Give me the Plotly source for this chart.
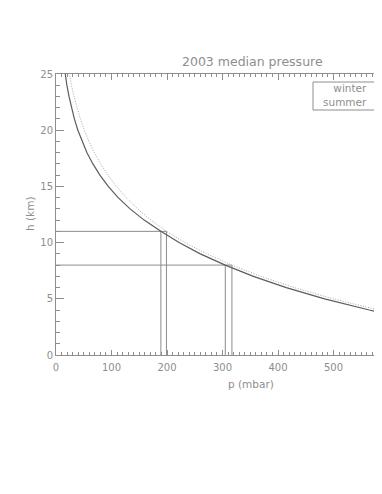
import plotly.graph_objects as go

# Heights (km) at which the median pressures are read
heights = [26, 25, 24, 23, 22, 21, 20, 19, 18, 17, 16, 15, 14, 13, 12, 11,
           10, 9, 8, 7, 6, 5, 4, 3, 2, 1, 0]
# Winter median pressure (mbar)
p_winter = [13.9, 16.5, 19.6, 23.4, 27.8, 33.1, 39.4, 46.9, 55.8, 66.5, 79.1,
            94.1, 112.0, 133.5, 158.8, 189.0, 221.7, 260.0, 305.0, 355.7,
            414.9, 483.9, 564.4, 658.3, 767.7, 895.4, 1044.0]
# Summer median pressure (mbar)
p_summer = [20.6, 24.0, 27.9, 32.5, 37.8, 43.9, 51.1, 59.4, 69.2, 80.4, 93.5,
            108.8, 126.5, 147.1, 171.1, 199.0, 232.4, 271.5, 317.0, 368.9,
            429.2, 499.4, 581.2, 676.3, 786.9, 915.7, 1065.0]

# Reference levels (km) and the pressures where each curve crosses them
ref_heights = [11, 8]
ref_p_winter = [189, 305]
ref_p_summer = [199, 317]

x_ticks = [0, 100, 200, 300, 400, 500, 600]
y_ticks = [0, 5, 10, 15, 20, 25]

TXT = "#8e8e8e"
AX = "#8e8e8e"
FONT = "DejaVu Sans"

# plot-area geometry in window pixels (page body has an 8px margin)
PL, PT, PB = 56, 74, 355
FIG_W, FIG_H = 374, 470
PR = 8 + FIG_W          # plot reaches the right edge of the figure
PW, PH = PR - PL, PB - PT
P_PER_PX = 600 / (389 - 56)   # mbar per pixel
X_MAX = PW * P_PER_PX


def fx(px):
    return (px - PL) / PW


def fy(py):
    return (PB - py) / PH


fig = go.Figure()

# reference lines: horizontal from p=0 to summer crossing, verticals down to 0
hx, hy, vx, vy = [], [], [], []
for h, pw, ps in zip(ref_heights, ref_p_winter, ref_p_summer):
    hx += [0, ps, None]
    hy += [h, h, None]
    vx += [pw, pw, None, ps, ps, None]
    vy += [0, h, None, 0, h, None]
fig.add_trace(go.Scatter(x=hx + vx, y=hy + vy, mode="lines",
                         line=dict(color="#8c8c8c", width=1),
                         showlegend=False, hoverinfo="skip"))

fig.add_trace(go.Scatter(x=p_summer, y=heights, mode="lines", name="summer",
                         line=dict(color="#a6a6a6", width=1, dash="1px,1.6px"),
                         showlegend=False))
fig.add_trace(go.Scatter(x=p_winter, y=heights, mode="lines", name="winter",
                         line=dict(color="#5c5c5c", width=1.2),
                         showlegend=False))

fig.update_layout(
    width=FIG_W, height=FIG_H,
    margin=dict(l=PL - 8, r=0, t=PT - 8, b=FIG_H + 8 - PB),
    paper_bgcolor="white", plot_bgcolor="white",
    font=dict(family=FONT, color=TXT, size=10),
    showlegend=False,
)

fig.update_xaxes(
    range=[0, X_MAX], tickvals=x_ticks, ticktext=[str(v) for v in x_ticks],
    ticks="inside", ticklen=5.5, tickcolor=AX, tickwidth=1,
    minor=dict(dtick=10, ticks="inside", ticklen=2.8, tickcolor=AX, tickwidth=1),
    showline=True, linecolor=AX, linewidth=1, mirror="allticks",
    showgrid=False, zeroline=False, ticklabelstandoff=3,
    tickfont=dict(family=FONT, color=TXT, size=10),
)
fig.update_yaxes(
    range=[0, 25], tickvals=y_ticks, ticktext=[str(v) for v in y_ticks],
    ticks="inside", ticklen=7.5, tickcolor=AX, tickwidth=1,
    minor=dict(dtick=1, ticks="inside", ticklen=3.8, tickcolor=AX, tickwidth=1),
    showline=True, linecolor=AX, linewidth=1, mirror=False,
    showgrid=False, zeroline=False,
    tickfont=dict(family=FONT, color=TXT, size=10),
)

# title, axis titles as text annotations
fig.add_annotation(text="2003 median pressure", xref="paper", yref="paper",
                   x=fx(252), y=fy(62), showarrow=False,
                   xanchor="center", yanchor="middle",
                   font=dict(family=FONT, color=TXT, size=12.5))
fig.add_annotation(text="p (mbar)", xref="paper", yref="paper",
                   x=fx(251), y=fy(384), showarrow=False,
                   xanchor="center", yanchor="middle",
                   font=dict(family=FONT, color=TXT, size=10.5))
fig.add_annotation(text="h (km)", xref="paper", yref="paper",
                   x=fx(30), y=fy(214), showarrow=False,
                   textangle=-90, xanchor="center", yanchor="middle",
                   font=dict(family=FONT, color=TXT, size=10.5))

# legend box
fig.add_shape(type="rect", xref="paper", yref="paper",
              x0=fx(313), x1=fx(381.5), y0=fy(110), y1=fy(82),
              line=dict(color=AX, width=1), fillcolor="rgba(0,0,0,0)")
fig.add_annotation(text="winter<br>summer", xref="paper", yref="paper",
                   x=fx(369), y=fy(95), showarrow=False, align="right",
                   xanchor="right", yanchor="middle",
                   font=dict(family=FONT, color=TXT, size=10.5))

fig.write_html("out.html")
